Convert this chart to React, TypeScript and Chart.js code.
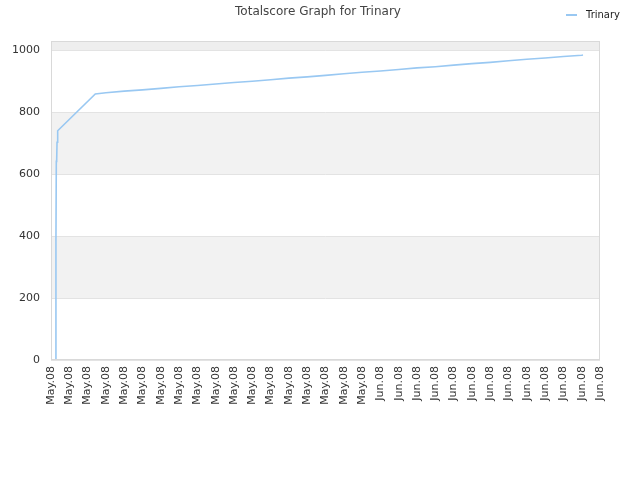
import React, { useEffect, useRef } from "react";
import { Chart, registerables } from "chart.js";

Chart.register(...registerables);

const chartTitle = "Totalscore Graph for Trinary";
const seriesName = "Trinary";

const tickLabels = [
  "May.08", "May.08", "May.08", "May.08", "May.08", "May.08", "May.08", "May.08",
  "May.08", "May.08", "May.08", "May.08", "May.08", "May.08", "May.08", "May.08",
  "May.08", "May.08",
  "Jun.08", "Jun.08", "Jun.08", "Jun.08", "Jun.08", "Jun.08", "Jun.08", "Jun.08",
  "Jun.08", "Jun.08", "Jun.08", "Jun.08", "Jun.08",
];

const xValues = [
  0.27, 0.27, 0.29, 0.31, 0.33, 0.35, 0.38, 2.42,
  3, 4, 5, 6, 7, 8, 9, 10, 11, 12, 13, 14, 15, 16, 17, 18, 19, 20,
  21, 22, 23, 24, 25, 26, 27, 28, 29, 29.07,
];
const yValues = [
  0, 380, 642, 645, 704, 710, 741, 860,
  864, 869, 873, 878, 883, 887, 892, 897, 901, 906, 911, 915, 920, 925, 930, 934, 939, 944,
  948, 953, 958, 962, 967, 972, 976, 981, 985, 986,
];

const yTickValues = [0, 200, 400, 600, 800, 1000];
const yMax = 1031;

const lineColor = "#99c8f2";

export default function App() {
  const ref = useRef<HTMLCanvasElement | null>(null);

  useEffect(() => {
    if (!ref.current) return;
    const points = xValues.map((x, i) => ({ x, y: yValues[i] }));

    const decor = {
      id: "decor",
      beforeDraw(chart: any) {
        const { ctx, chartArea } = chart;
        const y = chart.scales.y;
        ctx.save();
        ctx.fillStyle = "#ffffff";
        ctx.fillRect(0, 0, chart.width, chart.height);
        const bands = [
          [200, 400, "#f2f2f2"],
          [600, 800, "#f2f2f2"],
          [1000, yMax, "#eeeeee"],
        ] as [number, number, string][];
        for (const [a, b, c] of bands) {
          const y1 = y.getPixelForValue(b);
          const y2 = y.getPixelForValue(a);
          ctx.fillStyle = c;
          ctx.fillRect(chartArea.left, y1, chartArea.right - chartArea.left, y2 - y1);
        }
        ctx.restore();
      },
      afterDraw(chart: any) {
        const { ctx, chartArea } = chart;
        ctx.save();
        ctx.strokeStyle = "#d9d9d9";
        ctx.lineWidth = 1;
        ctx.strokeRect(
          Math.round(chartArea.left) + 0.5,
          Math.round(chartArea.top) + 0.5,
          Math.round(chartArea.right - chartArea.left) - 1,
          Math.round(chartArea.bottom - chartArea.top) - 1
        );
        ctx.fillStyle = "#444444";
        ctx.font = "12px 'DejaVu Sans'";
        ctx.textAlign = "center";
        ctx.textBaseline = "middle";
        ctx.fillText(chartTitle, 318, 12);
        ctx.strokeStyle = lineColor;
        ctx.lineWidth = 2;
        ctx.beginPath();
        ctx.moveTo(566, 15);
        ctx.lineTo(577, 15);
        ctx.stroke();
        ctx.fillStyle = "#222222";
        ctx.font = "10px 'DejaVu Sans'";
        ctx.textAlign = "left";
        ctx.fillText(seriesName, 586, 15);
        ctx.restore();
      },
    };

    const chart = new Chart(ref.current, {
      type: "line",
      data: {
        datasets: [
          {
            label: seriesName,
            data: points,
            borderColor: lineColor,
            backgroundColor: lineColor,
            borderWidth: 1.6,
            pointRadius: 0,
            fill: false,
            tension: 0,
          },
        ],
      },
      options: {
        responsive: false,
        animation: false,
        layout: { padding: { top: 41, right: 40, left: 0, bottom: 0 } },
        plugins: {
          legend: { display: false },
          title: { display: false },
          tooltip: { enabled: false },
        },
        scales: {
          x: {
            type: "linear",
            min: 0,
            max: tickLabels.length - 1,
            afterBuildTicks: (s: any) => {
              s.ticks = tickLabels.map((_, i) => ({ value: i }));
            },
            afterFit: (s: any) => {
              s.height = 120;
            },
            grid: { display: false, drawTicks: false },
            border: { display: false },
            ticks: {
              autoSkip: false,
              minRotation: 90,
              maxRotation: 90,
              padding: 6,
              color: "#333333",
              font: { family: "'DejaVu Sans'", size: 11 },
              callback: (v: any) => tickLabels[Math.round(Number(v))] ?? "",
            },
          },
          y: {
            min: 0,
            max: yMax,
            afterBuildTicks: (s: any) => {
              s.ticks = yTickValues.map((v) => ({ value: v }));
            },
            afterFit: (s: any) => {
              s.width = 51;
            },
            grid: { color: "#e3e3e3", drawTicks: false },
            border: { display: false },
            ticks: {
              padding: 11,
              color: "#333333",
              font: { family: "'DejaVu Sans'", size: 11 },
              callback: (v: any) => String(v),
            },
          },
        },
      },
      plugins: [decor],
    });
    return () => chart.destroy();
  }, []);

  return (
    <div style={{ position: "absolute", left: 0, top: 0, width: 640, height: 480 }}>
      <canvas ref={ref} width={640} height={480} style={{ display: "block" }} />
    </div>
  );
}
